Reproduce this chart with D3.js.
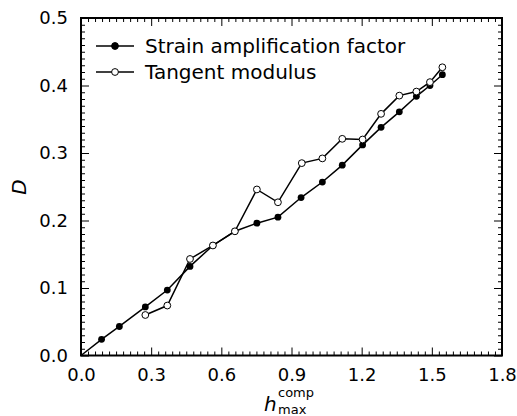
<!DOCTYPE html>
<html><head><meta charset="utf-8">
<script src="https://cdn.jsdelivr.net/npm/d3@7"></script>
<style>
html,body{margin:0;padding:0;background:#fff;}
svg{display:block;}
text{fill:#000;font-family:'DejaVu Sans';}
</style></head>
<body><div id="chart"></div>
<script>
const xStrain = [0, 0.088, 0.164, 0.275, 0.369, 0.466, 0.564, 0.658, 0.752, 0.842, 0.941, 1.032, 1.117, 1.204, 1.283, 1.361, 1.434, 1.492, 1.545];
const yStrain = [0, 0.024, 0.043, 0.072, 0.097, 0.132, 0.163, 0.184, 0.196, 0.205, 0.234, 0.257, 0.282, 0.312, 0.338, 0.361, 0.384, 0.400, 0.416];
const xTangent = [0.275, 0.369, 0.466, 0.564, 0.658, 0.752, 0.842, 0.944, 1.032, 1.117, 1.204, 1.283, 1.361, 1.434, 1.492, 1.545];
const yTangent = [0.060, 0.074, 0.143, 0.163, 0.184, 0.246, 0.227, 0.285, 0.292, 0.321, 0.320, 0.358, 0.385, 0.391, 0.405, 0.427];
const seriesNames = ["Strain amplification factor", "Tangent modulus"];
const xTicks = [0.0, 0.3, 0.6, 0.9, 1.2, 1.5, 1.8];
const yTicks = [0.0, 0.1, 0.2, 0.3, 0.4, 0.5];

const W = 517, H = 416;
const m = {left: 81, right: 517 - 502, top: 18, bottom: 416 - 355.5};
const svg = d3.select("#chart").append("svg").attr("width", W).attr("height", H);

const x = d3.scaleLinear().domain([0, 1.8]).range([m.left, W - m.right]);
const y = d3.scaleLinear().domain([0, 0.5]).range([H - m.bottom, m.top]);

const xMinor = d3.range(0, 61).map(i => i * 0.03).filter(v => Math.abs(v / 0.3 - Math.round(v / 0.3)) > 1e-6);
const yMinor = d3.range(0, 51).map(i => i * 0.01).filter(v => Math.abs(v / 0.1 - Math.round(v / 0.1)) > 1e-6);

const fmt = d3.format(".1f");
const MAJ = 8, MIN = 4;

function styleAxis(g){ g.select(".domain").remove(); g.attr("font-family", null); g.selectAll(".tick line").attr("stroke","#000").attr("stroke-width",1); }

svg.append("g").attr("transform",`translate(0,${y(0)})`)
  .call(d3.axisBottom(x).tickValues(xTicks).tickSize(-MAJ).tickPadding(15).tickFormat(fmt))
  .call(styleAxis).call(g=>g.selectAll("text").attr("font-size",18).attr("dy","0.6em"));
svg.append("g").attr("transform",`translate(0,${y(0)})`)
  .call(d3.axisBottom(x).tickValues(xMinor).tickSize(-MIN).tickFormat(""))
  .call(styleAxis);
svg.append("g").attr("transform",`translate(0,${y(0.5)})`)
  .call(d3.axisTop(x).tickValues(xTicks).tickSize(-MAJ).tickFormat(""))
  .call(styleAxis);
svg.append("g").attr("transform",`translate(0,${y(0.5)})`)
  .call(d3.axisTop(x).tickValues(xMinor).tickSize(-MIN).tickFormat(""))
  .call(styleAxis);
svg.append("g").attr("transform",`translate(${x(0)},0)`)
  .call(d3.axisLeft(y).tickValues(yTicks).tickSize(-MAJ).tickPadding(13).tickFormat(fmt))
  .call(styleAxis).call(g=>g.selectAll("text").attr("font-size",18));
svg.append("g").attr("transform",`translate(${x(0)},0)`)
  .call(d3.axisLeft(y).tickValues(yMinor).tickSize(-MIN).tickFormat(""))
  .call(styleAxis);
svg.append("g").attr("transform",`translate(${x(1.8)},0)`)
  .call(d3.axisRight(y).tickValues(yTicks).tickSize(-MAJ).tickFormat(""))
  .call(styleAxis);
svg.append("g").attr("transform",`translate(${x(1.8)},0)`)
  .call(d3.axisRight(y).tickValues(yMinor).tickSize(-MIN).tickFormat(""))
  .call(styleAxis);

svg.append("rect").attr("x", x(0)).attr("y", y(0.5)).attr("width", x(1.8)-x(0)).attr("height", y(0)-y(0.5))
  .attr("fill","none").attr("stroke","#000").attr("stroke-width",2);

const line = d3.line().x(d=>x(d[0])).y(d=>y(d[1]));
const strain = xStrain.map((v,i)=>[v,yStrain[i]]);
const tangent = xTangent.map((v,i)=>[v,yTangent[i]]);

svg.append("path").datum(strain).attr("d", line).attr("fill","none").attr("stroke","#000").attr("stroke-width",1.5);
svg.append("path").datum(tangent).attr("d", line).attr("fill","none").attr("stroke","#000").attr("stroke-width",1.5);

svg.append("g").selectAll("circle").data(strain.filter(d=>d[0]>0)).join("circle")
  .attr("cx",d=>x(d[0])).attr("cy",d=>y(d[1])).attr("r",3.4).attr("fill","#000");
svg.append("g").selectAll("circle").data(tangent).join("circle")
  .attr("cx",d=>x(d[0])).attr("cy",d=>y(d[1])).attr("r",3.4).attr("fill","#fff").attr("stroke","#000").attr("stroke-width",1);

const leg = svg.append("g");
const rows = [{name: seriesNames[0], fill:"#000", yy:46},{name: seriesNames[1], fill:"#fff", yy:72}];
rows.forEach(r=>{
  leg.append("line").attr("x1",96).attr("x2",134).attr("y1",r.yy).attr("y2",r.yy).attr("stroke","#000").attr("stroke-width",1.5);
  leg.append("circle").attr("cx",115).attr("cy",r.yy).attr("r",3.4).attr("fill",r.fill).attr("stroke","#000").attr("stroke-width",1);
  leg.append("text").attr("x",145).attr("y",r.yy).attr("dy","0.35em").attr("font-size",20).text(r.name);
});

svg.append("text").attr("transform","translate(26,187) rotate(-90)").attr("text-anchor","middle")
  .attr("font-size",20).attr("font-style","italic").text("D");
const xl = svg.append("g");
xl.append("text").attr("x",264).attr("y",411).attr("font-size",20).attr("font-style","italic").text("h");
xl.append("text").attr("x",278).attr("y",397).attr("font-size",13).text("comp");
xl.append("text").attr("x",278).attr("y",414).attr("font-size",13).text("max");
</script></body></html>
